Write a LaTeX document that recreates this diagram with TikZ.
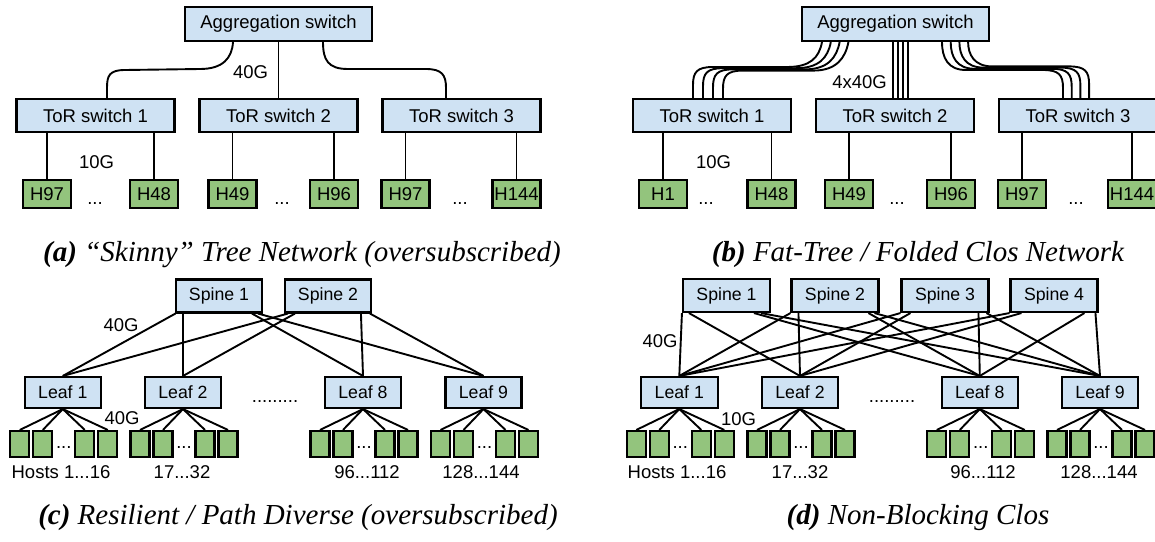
\documentclass[tikz,border=0pt]{standalone}
\usepackage{fontspec}
\setmainfont{Liberation Sans}
\newfontfamily\capserif{Liberation Serif}
\usetikzlibrary{calc}
\definecolor{boxblue}{HTML}{CFE2F3}
\definecolor{hostgreen}{HTML}{93C47D}
\begin{document}
\begin{tikzpicture}[x=1pt,y=-1pt,
  lbl/.style={font=\fontsize{18.5}{20}\selectfont, inner sep=0pt},
  swbox/.style={draw=black, line width=2.1pt, fill=boxblue, inner sep=0pt, font=\fontsize{18.5}{20}\selectfont, minimum width=158pt, minimum height=33pt},
  slbox/.style={draw=black, line width=2.1pt, fill=boxblue, inner sep=0pt, font=\fontsize{17.7}{20}\selectfont, minimum height=31pt},
  hostbox/.style={draw=black, line width=2.1pt, fill=hostgreen, inner sep=0pt, font=\fontsize{18.5}{20}\selectfont, minimum width=48pt, minimum height=28pt},
  smallhost/.style={draw=black, line width=2.1pt, fill=hostgreen, inner sep=0pt, minimum width=19pt, minimum height=26pt},
  link/.style={line width=1.9pt, line join=round},
  captext/.style={inner sep=0pt, font=\fontsize{29}{32}\selectfont\capserif\itshape}
]
\useasboundingbox (0,0) rectangle (1155,541);

% ================= (a) =================
\node[swbox, minimum width=187pt, minimum height=34pt] (aggA) at (278.5,24) {Aggregation switch};
\node[swbox] (torA1) at (95.5,115.5) {ToR switch 1};
\node[swbox] (torA2) at (278.5,115.5) {ToR switch 2};
\node[swbox] (torA3) at (461.5,115.5) {ToR switch 3};
\node[hostbox] (hA1) at (47,194) {H97};
\node[hostbox] (hA2) at (154,194) {H48};
\node[hostbox] (hA3) at (232.5,194) {H49};
\node[hostbox] (hA4) at (334,194) {H96};
\node[hostbox] (hA5) at (405.5,194) {H97};
\node[hostbox] (hA6) at (516.5,194) {H144};
\draw[link] ($(aggA.south)+(-45.5,0)$) .. controls (232,58) and (223,69) .. (200,69) -- (125,70) .. controls (109,70) and (107,76) .. (107,88) -- ($(torA1.north)+(11.5,0)$);
\draw[link] (aggA.south) -- (torA2.north);
\draw[link] ($(aggA.south)+(44.5,0)$) .. controls (323,60) and (328,69) .. (348,69) -- (426,69) .. controls (442,69) and (446,75) .. (446,88) -- ($(torA3.north)+(-15.5,0)$);
\draw[link] (torA1.south -| hA1.north) -- (hA1.north);
\draw[link] (torA1.south -| hA2.north) -- (hA2.north);
\draw[link] (torA2.south -| hA3.north) -- (hA3.north);
\draw[link] (torA2.south -| hA4.north) -- (hA4.north);
\draw[link] (torA3.south -| hA5.north) -- (hA5.north);
\draw[link] (torA3.south -| hA6.north) -- (hA6.north);
\node[lbl] (tA40) at (250.5,72) {40G};
\node[lbl] (tA10) at (96.5,162) {10G};
\node[lbl, anchor=base] (dA1) at (95,204) {...};
\node[lbl, anchor=base] (dA2) at (282,204) {...};
\node[lbl, anchor=base] (dA3) at (460,204) {...};
\node[captext] (capA) at (302,255) {{\bfseries (a)} “Skinny” Tree Network (oversubscribed)};

% ================= (b) =================
\node[swbox, minimum width=187pt, minimum height=34pt] (aggB) at (895.5,24) {Aggregation switch};
\node[swbox] (torB1) at (712,115.5) {ToR switch 1};
\node[swbox] (torB2) at (895,115.5) {ToR switch 2};
\node[swbox] (torB3) at (1078,115.5) {ToR switch 3};
\node[hostbox] (hB1) at (663,194) {H1};
\node[hostbox] (hB2) at (771.5,194) {H48};
\node[hostbox] (hB3) at (849,194) {H49};
\node[hostbox] (hB4) at (951,194) {H96};
\node[hostbox] (hB5) at (1022,194) {H97};
\node[hostbox] (hB6) at (1132,194) {H144};
\foreach \k in {0,...,3} {
  \pgfmathsetmacro\sx{822+8.8*\k}
  \pgfmathsetmacro\ex{693+10*\k}
  \pgfmathsetmacro\hy{67+1.2*\k}
  \draw[link] ($(aggB.south)+(\sx-895.5,0)$) .. controls (\sx-3,58) and (\sx-12,\hy) .. (\sx-35,\hy) -- (\ex+20,\hy) .. controls (\ex+4,\hy) and (\ex,\hy+5) .. (\ex,\hy+18) -- ($(torB1.north)+(\ex-712,0)$);
  \draw[link] ($(aggB.south)+(-2.5+5*\k,0)$) -- ($(torB2.north)+(-2+5*\k,0)$);
  \pgfmathsetmacro\rsx{942+8.7*\k}
  \pgfmathsetmacro\rex{1063+8.7*\k}
  \pgfmathsetmacro\rhy{70-1.2*\k}
  \draw[link] ($(aggB.south)+(\rsx-895.5,0)$) .. controls (\rsx,\rhy-12) and (\rsx+6,\rhy) .. (\rsx+24,\rhy) -- (\rex-20,\rhy) .. controls (\rex-4,\rhy) and (\rex,\rhy+5) .. (\rex,\rhy+18) -- ($(torB3.north)+(\rex-1078,0)$);
}
\draw[link] (torB1.south -| hB1.north) -- (hB1.north);
\draw[link] (torB1.south -| hB2.north) -- (hB2.north);
\draw[link] (torB2.south -| hB3.north) -- (hB3.north);
\draw[link] (torB2.south -| hB4.north) -- (hB4.north);
\draw[link] (torB3.south -| hB5.north) -- (hB5.north);
\draw[link] (torB3.south -| hB6.north) -- (hB6.north);
\node[lbl] (tB40) at (859.5,82) {4x40G};
\node[lbl] (tB10) at (713.5,162) {10G};
\node[lbl, anchor=base] (dB1) at (706,204) {...};
\node[lbl, anchor=base] (dB2) at (897,204) {...};
\node[lbl, anchor=base] (dB3) at (1076,204) {...};
\node[captext] (capB) at (918,255) {{\bfseries (b)} Fat-Tree / Folded Clos Network};

% ================= (c) =================
\node[slbox, minimum width=86pt, minimum height=33pt] (cs1) at (219,296) {Spine 1};
\node[slbox, minimum width=86pt, minimum height=33pt] (cs2) at (328,296) {Spine 2};
\node[slbox, minimum width=76pt] (cl1) at (62.8,392.5) {Leaf 1};
\node[slbox, minimum width=76pt] (cl2) at (183,392.5) {Leaf 2};
\node[slbox, minimum width=76pt] (cl8) at (363,392.5) {Leaf 8};
\node[slbox, minimum width=76pt] (cl9) at (483.5,392.5) {Leaf 9};
\foreach \s/\a/\b/\c/\d in {cs1/0.5/8/77/83, cs2/4/11/77/86} {
  \draw[link] ($(\s.south west)+(\a,0)$) -- (cl1.north);
  \draw[link] ($(\s.south west)+(\b,0)$) -- (cl2.north);
  \draw[link] ($(\s.south west)+(\c,0)$) -- (cl8.north);
  \draw[link] ($(\s.south west)+(\d,0)$) -- (cl9.north);
}
\foreach \l in {cl1,cl2,cl8,cl9} {
  \foreach \o [count=\i] in {-43,-20,22,45} {
    \node[smallhost] (\l h\i) at ($(\l)+(\o,51.5)$) {};
    \draw[link] (\l.south) -- (\l h\i.north);
  }
  \node[lbl, anchor=base] (\l dots) at ($(\l)+(1,55.5)$) {...};
}
\node[lbl] (tC40a) at (121,325) {40G};
\node[lbl] (tC40b) at (122,418) {40G};
\node[lbl, anchor=base] (cdots) at (275,402) {.........};
\node[lbl] (cH1) at (61,472) {Hosts 1...16};
\node[lbl] (cH2) at (182,472) {17...32};
\node[lbl] (cH8) at (367,472) {96...112};
\node[lbl] (cH9) at (481,472) {128...144};
\node[captext] (capC) at (298,518) {{\bfseries (c)} Resilient / Path Diverse (oversubscribed)};

% ================= (d) =================
\node[slbox, minimum width=87pt, minimum height=33pt] (ds1) at (726.5,295.5) {Spine 1};
\node[slbox, minimum width=87pt, minimum height=33pt] (ds2) at (835,295.5) {Spine 2};
\node[slbox, minimum width=87pt, minimum height=33pt] (ds3) at (945,295.5) {Spine 3};
\node[slbox, minimum width=87pt, minimum height=33pt] (ds4) at (1054,295.5) {Spine 4};
\node[slbox, minimum width=76.5pt] (dl1) at (679.3,392.5) {Leaf 1};
\node[slbox, minimum width=76.5pt] (dl2) at (800,392.5) {Leaf 2};
\node[slbox, minimum width=76.5pt] (dl8) at (979.8,392.5) {Leaf 8};
\node[slbox, minimum width=76.5pt] (dl9) at (1100,392.5) {Leaf 9};
\foreach \s/\a/\b/\c/\d in {ds1/0/7/72/79, ds2/0/8/78/84, ds3/0/10/78/86, ds4/0/12/75/86} {
  \draw[link] ($(\s.south west)+(\a,0)$) -- (dl1.north);
  \draw[link] ($(\s.south west)+(\b,0)$) -- (dl2.north);
  \draw[link] ($(\s.south west)+(\c,0)$) -- (dl8.north);
  \draw[link] ($(\s.south west)+(\d,0)$) -- (dl9.north);
}
\foreach \l in {dl1,dl2,dl8,dl9} {
  \foreach \o [count=\i] in {-43,-20,22,45} {
    \node[smallhost] (\l h\i) at ($(\l)+(\o,51.5)$) {};
    \draw[link] (\l.south) -- (\l h\i.north);
  }
  \node[lbl, anchor=base] (\l dots) at ($(\l)+(1,55.5)$) {...};
}
\node[lbl] (tD40) at (660,341) {40G};
\node[lbl] (tD10) at (738.5,419) {10G};
\node[lbl, anchor=base] (ddots) at (892,402) {.........};
\node[lbl] (dH1) at (677,472) {Hosts 1...16};
\node[lbl] (dH2) at (800,472) {17...32};
\node[lbl] (dH8) at (983,472) {96...112};
\node[lbl] (dH9) at (1099,472) {128...144};
\node[captext] (capD) at (918,518) {{\bfseries (d)} Non-Blocking Clos};
\end{tikzpicture}
\end{document}
